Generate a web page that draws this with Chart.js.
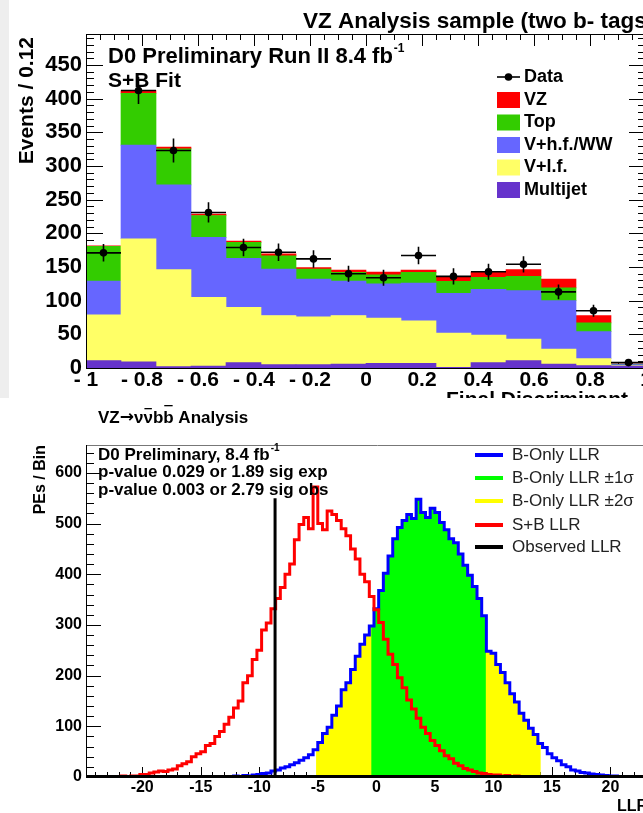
<!DOCTYPE html>
<html>
<head>
<meta charset="utf-8">
<script src="https://cdn.jsdelivr.net/npm/chart.js@4.4.0/dist/chart.umd.min.js"></script>
<style>
  html, body { margin: 0; padding: 0; background: #fff; }
  body { width: 643px; height: 813px; overflow: hidden; position: relative; }
  #topChart { position: absolute; left: 0; top: 0; }
  #llrChart { position: absolute; left: 0; top: 398px; }
</style>
</head>
<body>
<canvas id="topChart" width="700" height="398"></canvas>
<canvas id="llrChart" width="700" height="415"></canvas>
<script>
// --- DATA: final discriminant, two b-tags (top plot) ---
const discEdges = [-1, -0.875, -0.75, -0.625, -0.5, -0.375, -0.25, -0.125, 0, 0.125, 0.25, 0.375, 0.5, 0.625, 0.75, 0.875, 1];
const multijet = [11, 9, 2, 3, 8, 5, 5, 6, 7, 7, 1, 8, 11, 6, 3.5, 3];
const vlf      = [68, 183, 144, 102, 82, 73, 71, 72, 67, 63, 51, 41, 32, 22, 10.5, 0.5];
const vhf      = [50, 139, 126, 89, 73, 69, 56, 51, 51, 56, 59, 68, 72, 72, 40, 1.5];
const topBkg   = [51.5, 77, 53.5, 32.5, 23.5, 19.7, 15, 13, 13.5, 16, 17.6, 17.5, 21, 19, 13, 0.5];
const vzSig    = [1, 4, 2.5, 2, 2, 3, 2, 3.5, 4, 3.5, 6, 8.5, 10, 13, 11, 0.5];
const dataCounts = [171, 412, 323, 231, 179, 172, 162, 140, 134, 167, 136, 143, 154, 113, 85, 8];
const dataErrors = [13, 20, 18, 15, 13, 13, 13, 12, 12, 13, 12, 12, 12, 11, 9, 3];
const discTicks = [-1, -0.8, -0.6, -0.4, -0.2, 0, 0.2, 0.4, 0.6, 0.8, 1];
const eventTicks = [0, 50, 100, 150, 200, 250, 300, 350, 400, 450];

// --- DATA: LLR distributions (bottom plot) ---
const llrBinWidth = 0.4;
const sbStart = -22.2;   // S+B LLR, first bin low edge
const sbCounts = [
  1, 2, 1, 2, 2, 5, 5, 8, 10, 12,
  11, 14, 16, 22, 26, 30, 40, 46, 50, 62,
  66, 80, 90, 104, 118, 136, 150, 186, 200, 232,
  250, 290, 304, 332, 352, 374, 400, 420, 468, 498,
  512, 490, 572, 500, 488, 525, 518, 506, 490, 476,
  450, 430, 400, 385, 356, 330, 305, 272, 242, 222,
  196, 176, 152, 134, 116, 98, 86, 72, 62, 52,
  42, 36, 27, 22, 17, 14, 11, 8, 7, 5,
  4, 4, 2, 3, 1, 2, 1, 1, 0, 1,
  0
];
const bStart = -13.0;    // B-only LLR, first bin low edge
const bCounts = [
  1, 0, 2, 1, 3, 2, 4, 5, 7, 8,
  12, 14, 18, 20, 24, 28, 33, 38, 44, 54,
  68, 86, 98, 122, 140, 172, 186, 212, 238, 262,
  280, 298, 332, 368, 402, 436, 470, 492, 506, 518,
  510, 548, 522, 512, 530, 522, 502, 488, 470, 462,
  440, 418, 398, 376, 352, 318, 248, 244, 222, 206,
  186, 164, 148, 126, 112, 96, 84, 66, 58, 46,
  38, 32, 24, 20, 14, 12, 9, 8, 6, 5,
  4, 3, 2, 2, 1
];
const band1Sigma = [-0.44, 9.36];
const band2Sigma = [-5.15, 14.05];
const observedLLR = -8.65;
const observedHeight = 550;
const llrTicks = [-20, -15, -10, -5, 0, 5, 10, 15, 20];
const peTicks = [0, 100, 200, 300, 400, 500, 600];

const FONT = '"Liberation Sans", Arial, Helvetica, sans-serif';

// --- HELPERS ---
function drawText(ctx, str, x, y, font, opts = {}) {
    ctx.save();
    ctx.font = font;
    ctx.fillStyle = opts.color || '#000';
    ctx.textAlign = opts.align || 'left';
    ctx.textBaseline = opts.baseline || 'middle';
    ctx.translate(x, y);
    if (opts.rotate) ctx.rotate(opts.rotate);
    ctx.fillText(str, 0, 0);
    const w = ctx.measureText(str).width;
    ctx.restore();
    return w;
}

function histPoints(start, counts) {
    const pts = [{ x: start, y: 0 }];
    counts.forEach((c, i) => pts.push({ x: start + i * llrBinWidth, y: c }));
    pts.push({ x: start + counts.length * llrBinWidth, y: 0 });
    return pts;
}

// part of a histogram between lo and hi, used for the sigma bands
function bandPoints(start, counts, lo, hi) {
    const binOf = v => Math.min(counts.length - 1, Math.max(0, Math.floor((v - start) / llrBinWidth)));
    const pts = [{ x: lo, y: 0 }, { x: lo, y: counts[binOf(lo)] }];
    for (let i = binOf(lo) + 1; i <= binOf(hi); i++) {
        pts.push({ x: start + i * llrBinWidth, y: counts[i] });
    }
    pts.push({ x: hi, y: 0 });
    return pts;
}

const asTicks = list => s => { s.ticks = list.map(v => ({ value: v })); };

// --- TOP PLOT ---
const binCenters = discEdges.slice(0, -1).map((e, i) => (e + discEdges[i + 1]) / 2);
const xy = arr => arr.map((v, i) => ({ x: binCenters[i], y: v }));

const topPlugin = {
    id: 'topRoot',
    beforeDraw(chart) {
        const { ctx, width, height } = chart;
        ctx.save();
        ctx.fillStyle = '#ffffff';
        ctx.fillRect(0, 0, width, height);
        ctx.fillStyle = '#eeeeee';
        ctx.fillRect(0, 0, 9, height);
        ctx.restore();
    },
    beforeDatasetsDraw(chart) {
        const { ctx, chartArea: a, scales } = chart;
        ctx.save();
        ctx.strokeStyle = '#000';
        ctx.lineWidth = 1;
        ctx.beginPath();
        for (let i = 0; i <= 40; i++) {
            const px = Math.round(scales.x.getPixelForValue(-1 + i * 0.05)) + 0.5;
            const len = i % 4 === 0 ? 12 : 6;
            ctx.moveTo(px, a.top); ctx.lineTo(px, a.top + len);
            ctx.moveTo(px, a.bottom); ctx.lineTo(px, a.bottom - len);
        }
        for (let v = 0; v <= 490; v += 10) {
            const py = Math.round(scales.y.getPixelForValue(v)) + 0.5;
            const len = v % 50 === 0 ? 17 : 8;
            ctx.moveTo(a.left, py); ctx.lineTo(a.left + len, py);
            ctx.moveTo(a.right, py); ctx.lineTo(a.right - len, py);
        }
        ctx.stroke();
        ctx.restore();
    },
    afterDatasetsDraw(chart) {
        const { ctx, chartArea: a, scales } = chart;
        const xs = scales.x, ys = scales.yd;
        ctx.save();
        ctx.strokeStyle = '#000';
        ctx.lineWidth = 1;
        ctx.strokeRect(a.left + 0.5, a.top + 0.5, a.right - a.left, a.bottom - a.top);
        // data error bars
        ctx.lineWidth = 1.6;
        ctx.beginPath();
        dataCounts.forEach((n, i) => {
            const x = xs.getPixelForValue(binCenters[i]);
            const y = ys.getPixelForValue(n);
            ctx.moveTo(xs.getPixelForValue(discEdges[i]), y);
            ctx.lineTo(xs.getPixelForValue(discEdges[i + 1]), y);
            ctx.moveTo(x, ys.getPixelForValue(n - dataErrors[i]));
            ctx.lineTo(x, ys.getPixelForValue(n + dataErrors[i]));
        });
        ctx.stroke();
        ctx.restore();
    },
    afterDraw(chart) {
        const ctx = chart.ctx;
        const bold = s => `bold ${s}px ${FONT}`;
        drawText(ctx, 'VZ Analysis sample (two b- tags)', 303, 22, bold(22.5));
        const w = drawText(ctx, 'D0 Preliminary Run II 8.4 fb', 108, 57, bold(22));
        drawText(ctx, '-1', 108 + w + 1, 49, bold(12));
        drawText(ctx, 'S+B Fit', 108, 81, bold(21));
        drawText(ctx, 'Events / 0.12', 27, 37, bold(21), { align: 'right', rotate: -Math.PI / 2 });
        drawText(ctx, 'Final Discriminant', 446, 400, bold(21));

        // legend
        ctx.save();
        ctx.strokeStyle = '#000';
        ctx.lineWidth = 1.6;
        ctx.beginPath();
        ctx.moveTo(497, 77); ctx.lineTo(520, 77);
        ctx.stroke();
        ctx.beginPath();
        ctx.arc(508.5, 77, 3.8, 0, Math.PI * 2);
        ctx.fillStyle = '#000';
        ctx.fill();
        ctx.restore();
        drawText(ctx, 'Data', 524, 77, bold(18));
        const entries = [['VZ', '#ff0000'], ['Top', '#33cc00'], ['V+h.f./WW', '#6666ff'], ['V+l.f.', '#ffff66'], ['Multijet', '#6633cc']];
        entries.forEach(([name, col], i) => {
            const cy = 100 + i * 22.5;
            ctx.fillStyle = col;
            ctx.fillRect(497, cy - 8, 23, 16);
            drawText(ctx, name, 524, cy, bold(18));
        });
    }
};

const barOpts = { categoryPercentage: 1, barPercentage: 1, borderWidth: 0 };

new Chart(document.getElementById('topChart'), {
    type: 'bar',
    data: {
        datasets: [
            {
                type: 'scatter', label: 'Data', data: xy(dataCounts), yAxisID: 'yd',
                pointRadius: 3.8, pointBackgroundColor: '#000', pointBorderColor: '#000', pointBorderWidth: 0
            },
            { label: 'Multijet', data: xy(multijet), backgroundColor: '#6633cc', ...barOpts },
            { label: 'V+l.f.', data: xy(vlf), backgroundColor: '#ffff66', ...barOpts },
            { label: 'V+h.f./WW', data: xy(vhf), backgroundColor: '#6666ff', ...barOpts },
            { label: 'Top', data: xy(topBkg), backgroundColor: '#33cc00', ...barOpts },
            { label: 'VZ', data: xy(vzSig), backgroundColor: '#ff0000', ...barOpts }
        ]
    },
    options: {
        responsive: false,
        animation: false,
        devicePixelRatio: 1,
        layout: { padding: { left: 0, top: 34, right: 54, bottom: 0 } },
        plugins: { legend: { display: false }, tooltip: { enabled: false } },
        scales: {
            x: {
                type: 'linear', position: 'bottom', min: -1, max: 1, offset: false, stacked: true,
                grid: { display: false, drawTicks: false, offset: false }, border: { display: false },
                ticks: {
                    autoSkip: false, maxRotation: 0, padding: 2, color: '#000',
                    font: { family: FONT, size: 21, weight: 'bold', lineHeight: 1 },
                    callback: v => {
                        const r = Math.round(v * 10) / 10;
                        return r < 0 ? '- ' + Math.abs(r) : String(r);
                    }
                },
                afterBuildTicks: asTicks(discTicks),
                afterFit: s => { s.height = 30; }
            },
            y: {
                stacked: true, min: 0, max: 496,
                grid: { display: false, drawTicks: false }, border: { display: false },
                ticks: {
                    padding: 4, color: '#000',
                    font: { family: FONT, size: 22, weight: 'bold', lineHeight: 1 }
                },
                afterBuildTicks: asTicks(eventTicks),
                afterFit: s => { s.width = 86; }
            },
            yd: { display: false, min: 0, max: 496 }
        }
    },
    plugins: [topPlugin]
});

// --- BOTTOM PLOT ---
const llrPlugin = {
    id: 'llrRoot',
    beforeDraw(chart) {
        const { ctx, width, height } = chart;
        ctx.save();
        ctx.fillStyle = '#ffffff';
        ctx.fillRect(0, 0, width, height);
        ctx.restore();
    },
    beforeDatasetsDraw(chart) {
        const { ctx, chartArea: a, scales } = chart;
        ctx.save();
        ctx.strokeStyle = '#000';
        ctx.lineWidth = 1;
        ctx.beginPath();
        for (let v = 0; v <= 640; v += 20) {
            const py = Math.round(scales.y.getPixelForValue(v)) + 0.5;
            const len = v % 100 === 0 ? 15 : 8;
            ctx.moveTo(a.left, py); ctx.lineTo(a.left + len, py);
        }
        for (let v = -24; v <= 25; v++) {
            const px = Math.round(scales.x.getPixelForValue(v)) + 0.5;
            const len = v % 5 === 0 ? 10 : 5;
            ctx.moveTo(px, a.bottom); ctx.lineTo(px, a.bottom - len);
        }
        ctx.stroke();
        ctx.strokeStyle = '#777';
        ctx.beginPath();
        ctx.moveTo(a.left, a.top + 0.5); ctx.lineTo(a.right, a.top + 0.5);
        ctx.stroke();
        ctx.strokeStyle = '#000';
        ctx.beginPath();
        ctx.moveTo(a.left + 0.5, a.top); ctx.lineTo(a.left + 0.5, a.bottom);
        ctx.stroke();
        ctx.restore();
    },
    afterDatasetsDraw(chart) {
        const { ctx, chartArea: a } = chart;
        ctx.save();
        ctx.fillStyle = '#000';
        ctx.fillRect(a.left, a.bottom - 2, a.right - a.left, 3);
        ctx.restore();
    },
    afterDraw(chart) {
        const ctx = chart.ctx;
        const bold = s => `bold ${s}px ${FONT}`;
        // title with overlines on nu-bar and b-bar
        const segs = [
            ['VZ', 0, bold(17)],
            ['\u2192', 0, 'bold 17px "DejaVu Sans", sans-serif'],
            ['\u03bd', 0, bold(17)],
            ['\u03bd', 10, bold(17)],
            ['b', 0, bold(17)],
            ['b', 13, bold(17)],
            [' Analysis', 0, bold(17)]
        ];
        let cx = 98;
        segs.forEach(([s, bar, font]) => {
            const w = drawText(ctx, s, cx, 20, font);
            if (bar) { ctx.fillStyle = '#000'; ctx.fillRect(cx + 1, 20 - bar, w - 2, 1.3); }
            cx += w;
        });
        drawText(ctx, 'PEs / Bin', 41, 47, bold(16), { align: 'right', rotate: -Math.PI / 2 });
        drawText(ctx, 'LLR', 617, 409, bold(16));

        const w = drawText(ctx, 'D0 Preliminary, 8.4 fb', 98, 57, bold(17));
        drawText(ctx, '-1', 98 + w + 1, 50, bold(10));
        drawText(ctx, 'p-value 0.029 or 1.89 sig exp', 98, 74, bold(17));
        drawText(ctx, 'p-value 0.003 or 2.79 sig obs', 98, 92, bold(17));

        const legend = [
            ['B-Only LLR', '#0000ff'],
            ['B-Only LLR \u00b11\u03c3', '#00ff00'],
            ['B-Only LLR \u00b12\u03c3', '#ffff00'],
            ['S+B LLR', '#ff0000'],
            ['Observed LLR', '#000000']
        ];
        const rows = [57, 80, 103, 127, 149];
        legend.forEach(([name, col], i) => {
            ctx.fillStyle = col;
            ctx.fillRect(475, rows[i] - 2, 28, 4);
            drawText(ctx, name, 512, rows[i], `17px ${FONT}`, { color: '#222' });
        });
    }
};

const stepLine = { pointRadius: 0, stepped: true, tension: 0, borderWidth: 3, fill: false };

new Chart(document.getElementById('llrChart'), {
    type: 'line',
    data: {
        datasets: [
            { label: 'Observed LLR', data: [{ x: observedLLR, y: 0 }, { x: observedLLR, y: observedHeight }],
              borderColor: '#000', borderWidth: 3, pointRadius: 0, fill: false, order: 1 },
            { label: 'S+B LLR', data: histPoints(sbStart, sbCounts), borderColor: '#ff0000', ...stepLine, order: 2 },
            { label: 'B-Only LLR', data: histPoints(bStart, bCounts), borderColor: '#0000ff', ...stepLine, order: 3 },
            { label: 'B-Only LLR \u00b11\u03c3', data: bandPoints(bStart, bCounts, band1Sigma[0], band1Sigma[1]),
              pointRadius: 0, stepped: true, borderWidth: 0, fill: 'origin', backgroundColor: '#00ff00', order: 4 },
            { label: 'B-Only LLR \u00b12\u03c3', data: bandPoints(bStart, bCounts, band2Sigma[0], band2Sigma[1]),
              pointRadius: 0, stepped: true, borderWidth: 0, fill: 'origin', backgroundColor: '#ffff00', order: 5 }
        ]
    },
    options: {
        responsive: false,
        animation: false,
        devicePixelRatio: 1,
        layout: { padding: { left: 0, top: 47, right: 31, bottom: 0 } },
        plugins: { legend: { display: false }, tooltip: { enabled: false } },
        scales: {
            x: {
                type: 'linear', min: -24.8, max: 25,
                grid: { display: false, drawTicks: false }, border: { display: false },
                ticks: {
                    autoSkip: false, maxRotation: 0, padding: 3, color: '#000',
                    font: { family: FONT, size: 16, weight: 'bold', lineHeight: 1 }
                },
                afterBuildTicks: asTicks(llrTicks),
                afterFit: s => { s.height = 36; }
            },
            y: {
                min: 0, max: 655,
                grid: { display: false, drawTicks: false }, border: { display: false },
                ticks: {
                    padding: 4, color: '#000',
                    font: { family: FONT, size: 16, weight: 'bold', lineHeight: 1 }
                },
                afterBuildTicks: asTicks(peTicks),
                afterFit: s => { s.width = 86; }
            }
        }
    },
    plugins: [llrPlugin]
});
</script>
</body>
</html>
